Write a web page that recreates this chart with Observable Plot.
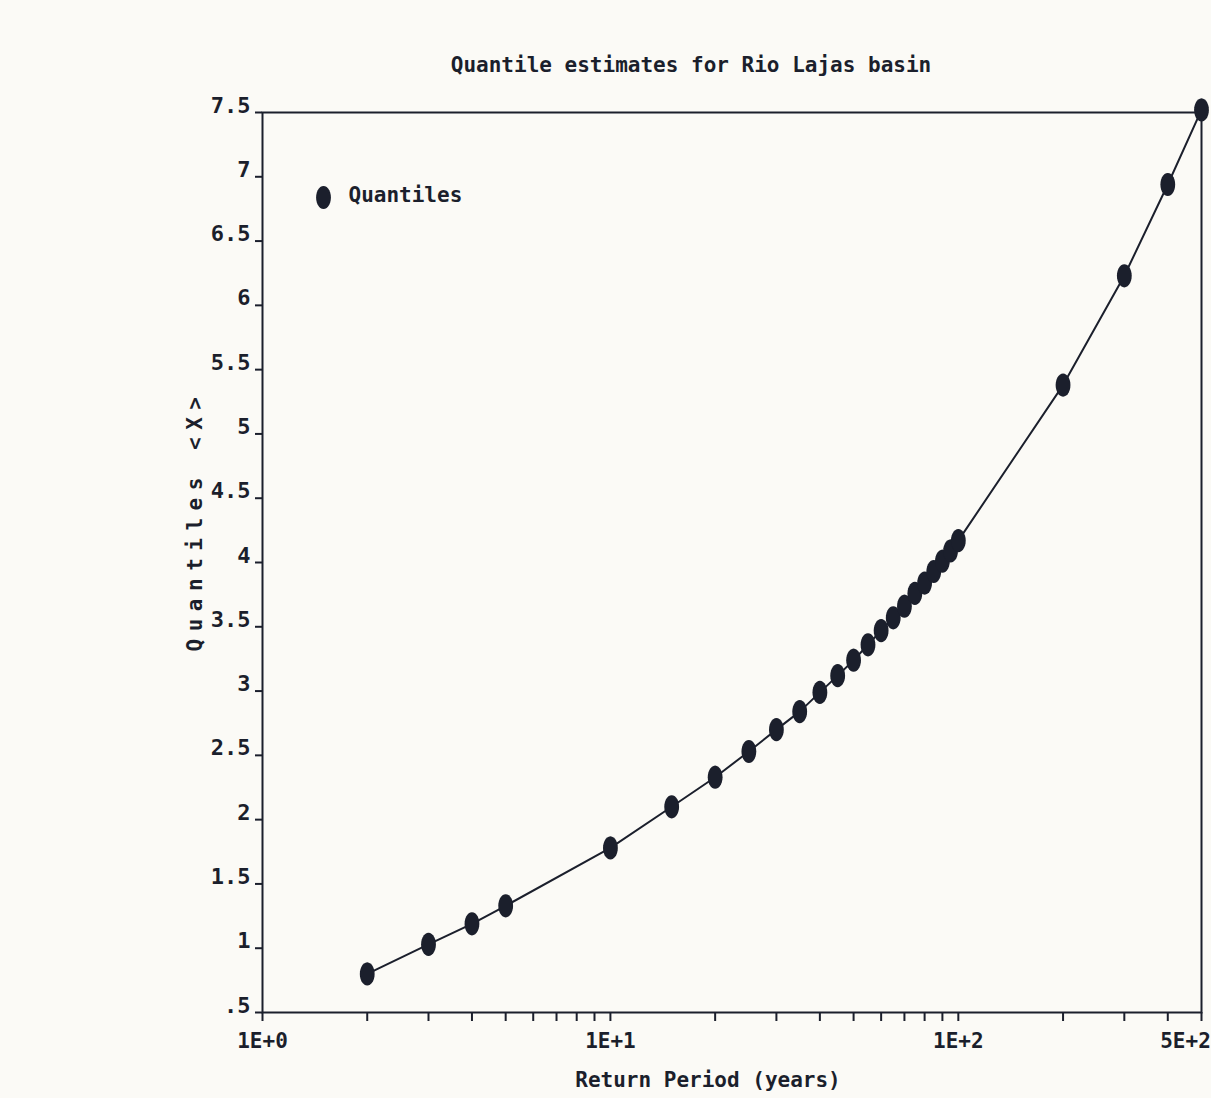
<!DOCTYPE html>
<html>
<head>
<meta charset="utf-8">
<script src="https://cdn.jsdelivr.net/npm/d3@7"></script>
<script src="https://cdn.jsdelivr.net/npm/@observablehq/plot@0.6"></script>
<style>
  html, body { margin: 0; padding: 0; background: #fbfaf6; }
  #chart { width: 1211px; height: 1098px; }
</style>
</head>
<body>
<div id="chart"></div>
<script>
// ---- data ----
const returnPeriods = [2, 3, 4, 5, 10, 15, 20, 25, 30, 35, 40, 45, 50, 55, 60, 65, 70, 75, 80, 85, 90, 95, 100, 200, 300, 400, 500];
const quantiles     = [0.80, 1.03, 1.19, 1.33, 1.78, 2.10, 2.33, 2.53, 2.70, 2.84, 2.99, 3.12, 3.24, 3.36, 3.47, 3.57, 3.66, 3.76, 3.84, 3.93, 4.01, 4.09, 4.17, 5.38, 6.23, 6.94, 7.52];

const xTicks = [1, 2, 3, 4, 5, 6, 7, 8, 9, 10, 20, 30, 40, 50, 60, 70, 80, 90, 100, 200, 300, 400, 500];
const xLabelValues = [1, 10, 100, 500];
const xLabelTexts  = ["1E+0", "1E+1", "1E+2", "5E+2"];
const yTicks = [0.5, 1, 1.5, 2, 2.5, 3, 3.5, 4, 4.5, 5, 5.5, 6, 6.5, 7, 7.5];
const yLabelTexts = [".5", "1", "1.5", "2", "2.5", "3", "3.5", "4", "4.5", "5", "5.5", "6", "6.5", "7", "7.5"];

const titleText = "Quantile estimates for Rio Lajas basin";
const xTitle = "Return Period (years)";
const yTitle = "Quantiles <X>";
const seriesName = "Quantiles";

const data = returnPeriods.map((t, i) => ({T: t, Q: quantiles[i]}));

const ink = "#1b1f2c";
const font = "'DejaVu Sans Mono', monospace";

// ellipse-shaped marker (taller than wide), like the printer's dots
const ellipseSymbol = {
  draw(context, size) {
    const r = Math.sqrt(size / Math.PI);
    const rx = r * 0.78, ry = r * 1.22, n = 28;
    for (let i = 0; i <= n; i++) {
      const a = (i / n) * 2 * Math.PI;
      const px = rx * Math.cos(a), py = ry * Math.sin(a);
      if (i === 0) context.moveTo(px, py); else context.lineTo(px, py);
    }
    context.closePath();
  }
};

const xFmt = d => { const i = xLabelValues.indexOf(d); return i >= 0 ? xLabelTexts[i] : ""; };
const yFmt = d => yLabelTexts[yTicks.indexOf(d)];

const plot = Plot.plot({
  width: 1211,
  height: 1098,
  marginTop: 112,
  marginBottom: 86,
  marginLeft: 262,
  marginRight: 10,
  style: {background: "transparent", fontFamily: font, fontWeight: "bold", color: ink},
  x: {type: "log", domain: [1, 500]},
  y: {domain: [0.5, 7.5]},
  marks: [
    Plot.frame({stroke: ink, strokeWidth: 2}),
    // x ticks (downward) and labels
    Plot.axisX({ticks: xTicks, tickSize: 9, tickFormat: () => "", strokeWidth: 2, stroke: ink, label: null}),
    Plot.text(xLabelValues.slice(0, 3), {x: d => d, text: xFmt, frameAnchor: "bottom", lineAnchor: "middle", dy: 29, fontSize: 21, fontWeight: "bold", fill: ink}),
    Plot.text(xLabelValues.slice(3), {x: d => d, text: xFmt, frameAnchor: "bottom", lineAnchor: "middle", dy: 29, dx: -16, fontSize: 21, fontWeight: "bold", fill: ink}),
    // y ticks and labels (labels sit above the tick, as in the print)
    Plot.axisY({ticks: yTicks, tickSize: 7, tickFormat: () => "", strokeWidth: 2, stroke: ink, label: null}),
    Plot.axisY({ticks: yTicks, tickSize: 0, tickPadding: 12, tickFormat: yFmt, fontSize: 22, fill: ink, dy: -7, label: null}),
    // series
    Plot.line(data, {x: "T", y: "Q", stroke: ink, strokeWidth: 2}),
    Plot.dot(data, {x: "T", y: "Q", r: 9.5, symbol: ellipseSymbol, fill: ink, stroke: "none"}),
    // legend
    Plot.dot([seriesName], {frameAnchor: "top-left", dx: 61, dy: 85, r: 9.5, symbol: ellipseSymbol, fill: ink}),
    Plot.text([seriesName], {frameAnchor: "top-left", dx: 86, dy: 83, text: d => d, textAnchor: "start", lineAnchor: "middle", fontSize: 21, fontWeight: "bold", fill: ink}),
    // titles
    Plot.text([titleText], {frameAnchor: "top", dx: -41, dy: -47, text: d => d, lineAnchor: "middle", fontSize: 21, fontWeight: "bold", fill: ink}),
    Plot.text([xTitle], {frameAnchor: "bottom", dx: -24, dy: 68, text: d => d, lineAnchor: "middle", fontSize: 21, fontWeight: "bold", fill: ink}),
    Plot.text([yTitle], {frameAnchor: "left", dx: -67, dy: -42, rotate: -90, text: d => d, textAnchor: "middle", lineAnchor: "middle", fontSize: 21, fontWeight: "bold", fill: ink})
  ]
});

d3.select(plot).selectAll("text").filter(function () { return this.textContent === yTitle; })
  .attr("letter-spacing", 7.5);

document.getElementById("chart").appendChild(plot);
</script>
</body>
</html>
